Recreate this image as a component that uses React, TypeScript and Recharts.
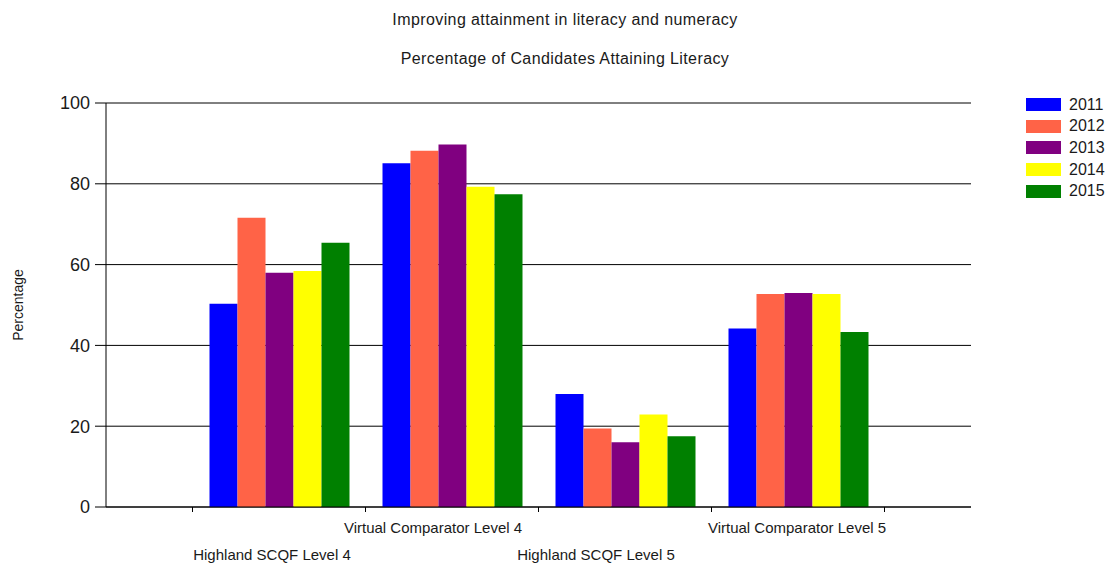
import React from "react";
import { BarChart, Bar, XAxis, YAxis, CartesianGrid, Legend } from "recharts";

const categories = [
  "Highland SCQF Level 4",
  "Virtual Comparator Level 4",
  "Highland SCQF Level 5",
  "Virtual Comparator Level 5",
];
const years = ["2011", "2012", "2013", "2014", "2015"];
const v2011 = [50.3, 85.1, 28.0, 44.2];
const v2012 = [71.6, 88.2, 19.4, 52.7];
const v2013 = [58.0, 89.7, 16.0, 53.0];
const v2014 = [58.4, 79.3, 22.9, 52.7];
const v2015 = [65.4, 77.4, 17.5, 43.3];
const yTicks = [0, 20, 40, 60, 80, 100];
const colors = ["#0000FF", "#FF6347", "#800080", "#FFFF00", "#008000"];
const title1 = "Improving attainment in literacy and numeracy";
const title2 = "Percentage of Candidates Attaining Literacy";
const yLabel = "Percentage";

const seriesValues = [v2011, v2012, v2013, v2014, v2015];
const data = categories.map((c, i) => {
  const row: Record<string, string | number> = { name: c };
  years.forEach((y, j) => {
    row[y] = seriesValues[j][i];
  });
  return row;
});

const W = 1113;
const H = 565;
const M = { top: 103, right: 142, bottom: 8, left: 0 };
const Y_AXIS_W = 106;
const PLOT_W = W - M.left - M.right - Y_AXIS_W;
const BAND = PLOT_W / (categories.length + 1);
const FONT = "'Liberation Sans', Arial, sans-serif";
// horizontal nudge of staggered category labels, as the source renderer places them
const LABEL_NUDGE = [-7, -19, -29, -1];

if (typeof document !== "undefined") {
  document.body.style.margin = "0";
}

const XTick = (props: any) => {
  const { x, y, payload, index } = props;
  const half = BAND / 2;
  const lower = index % 2 === 0;
  const ty = y + (lower ? 53 : 26);
  return (
    <g>
      <line x1={x - half} x2={x - half} y1={y} y2={y + 5} stroke="#000" strokeWidth={1} />
      {index === categories.length - 1 && (
        <line x1={x + half} x2={x + half} y1={y} y2={y + 5} stroke="#000" strokeWidth={1} />
      )}
      <text
        x={x + (LABEL_NUDGE[index] || 0)}
        y={ty}
        textAnchor="middle"
        fontSize={15}
        fontFamily={FONT}
        fill="#1a1a1a"
      >
        {payload.value}
      </text>
    </g>
  );
};

const LegendContent = (props: any) => {
  const { payload } = props;
  return (
    <div style={{ fontFamily: FONT, fontSize: 16, color: "#1a1a1a" }}>
      {(payload || []).map((p: any) => (
        <div
          key={p.value}
          style={{ display: "flex", alignItems: "center", height: 21.6 }}
        >
          <div
            style={{
              width: 35,
              height: 13,
              background: p.color,
              marginRight: 8,
            }}
          />
          <span>{p.value}</span>
        </div>
      ))}
    </div>
  );
};

const titleStyle: React.CSSProperties = {
  position: "absolute",
  left: 0,
  width: 1130,
  textAlign: "center",
  fontFamily: FONT,
  fontSize: 16,
  letterSpacing: 0.4,
  color: "#1a1a1a",
  lineHeight: "18px",
};

export default function App() {
  return (
    <div style={{ position: "relative", width: W, height: H, background: "#fff" }}>
      <div style={{ ...titleStyle, top: 11 }}>{title1}</div>
      <div style={{ ...titleStyle, top: 50 }}>{title2}</div>
      <BarChart
        width={W}
        height={H}
        data={data}
        margin={M}
        barGap={0}
        barCategoryGap={17}
      >
        <CartesianGrid vertical={false} stroke="#000" strokeOpacity={1} />
        <XAxis
          dataKey="name"
          height={50}
          padding={{ left: BAND / 2, right: BAND / 2 }}
          axisLine={{ stroke: "#000" }}
          tickLine={false}
          tickSize={0}
          tickMargin={0}
          tick={<XTick />}
          interval={0}
        />
        <YAxis
          width={Y_AXIS_W}
          domain={[0, 100]}
          ticks={yTicks}
          tickSize={11}
          tickMargin={5}
          axisLine={{ stroke: "#000" }}
          tickLine={{ stroke: "#000" }}
          tick={{ fontSize: 18, fontFamily: FONT, fill: "#1a1a1a" }}
          label={{
            value: yLabel,
            content: (p: any) => {
              const vb = p.viewBox;
              const cx = 18;
              const cy = vb.y + vb.height / 2;
              return (
                <text
                  x={cx}
                  y={cy}
                  transform={`rotate(-90 ${cx} ${cy})`}
                  textAnchor="middle"
                  dominantBaseline="central"
                  fontSize={14}
                  fontFamily={FONT}
                  fill="#1a1a1a"
                >
                  {yLabel}
                </text>
              );
            },
          }}
        />
        <Legend
          layout="vertical"
          align="center"
          verticalAlign="middle"
          wrapperStyle={{ left: 1026, top: 94, width: 90 }}
          content={<LegendContent />}
        />
        {years.map((y, i) => (
          <Bar
            key={y}
            dataKey={y}
            fill={colors[i]}
            isAnimationActive={false}
          />
        ))}
      </BarChart>
    </div>
  );
}
